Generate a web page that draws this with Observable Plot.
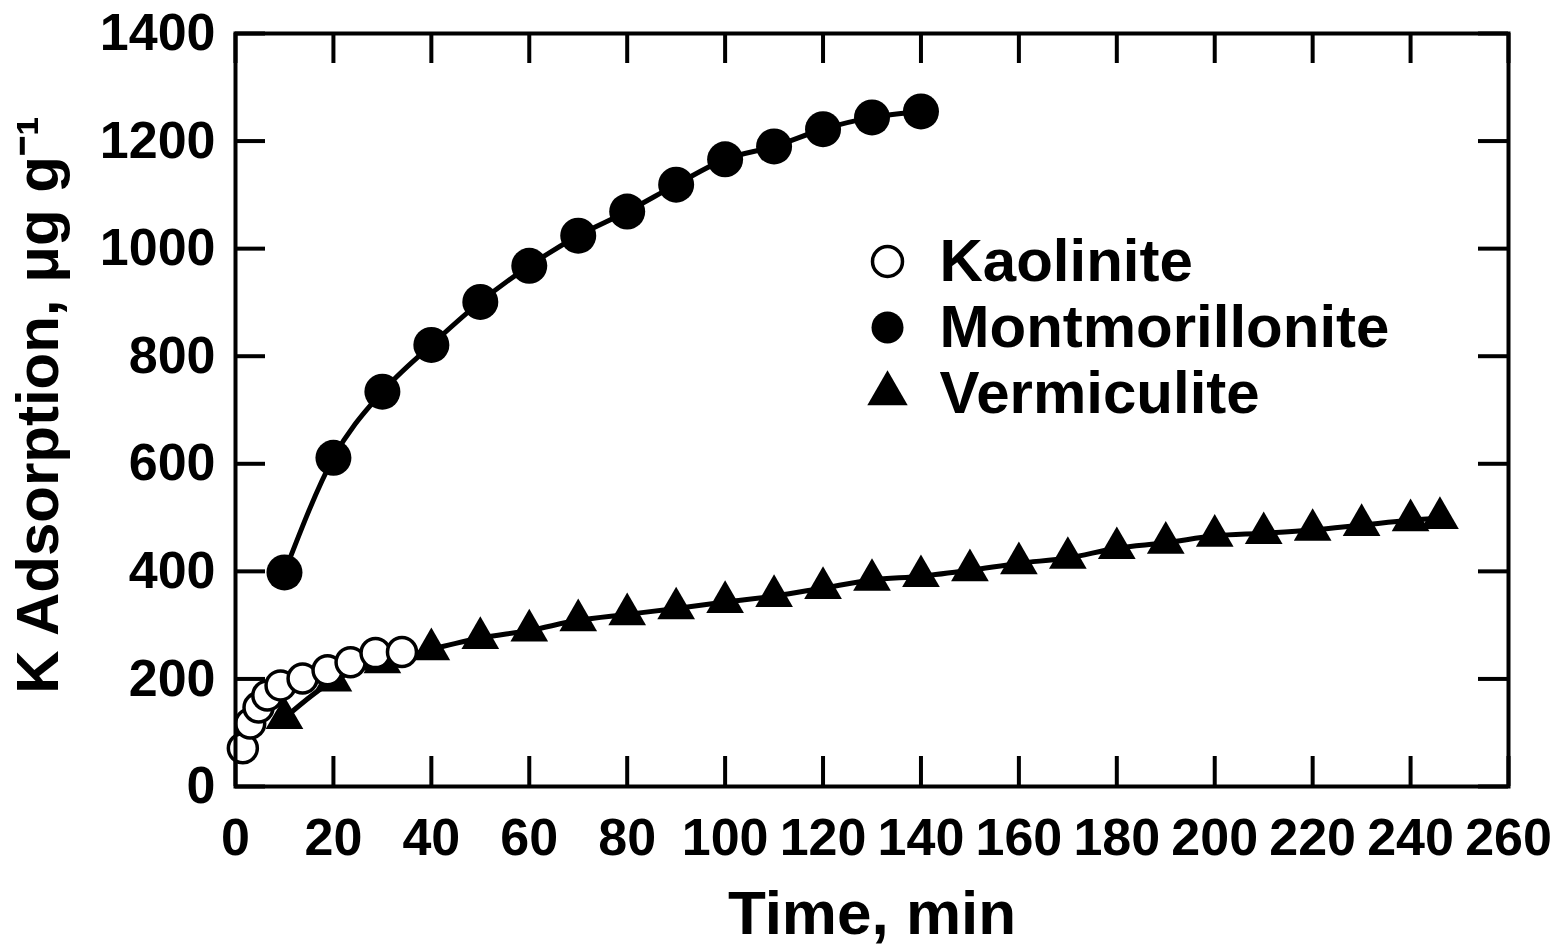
<!DOCTYPE html>
<html>
<head>
<meta charset="utf-8">
<script src="https://cdn.jsdelivr.net/npm/d3@7"></script>
<script src="https://cdn.jsdelivr.net/npm/@observablehq/plot@0.6"></script>
<style>
  html, body { margin: 0; padding: 0; background: #fff; }
  #chart { width: 1557px; height: 949px; }
</style>
</head>
<body>
<div id="chart"></div>
<script>
// ---- data ----
const kaoTime = [1.5, 3, 4.7, 6.5, 9.2, 13.7, 18.8, 23.5, 28.6, 34];
const kaoK    = [71, 117, 147, 169, 188, 201, 216, 231, 248, 250];

const monTime = [10, 20, 30, 40, 50, 60, 70, 80, 90, 100, 110, 120, 130, 140];
const monK    = [398, 611, 734, 821, 901, 968, 1024, 1069, 1119, 1166, 1190, 1222, 1244, 1255];

const verTime = [10, 20, 30, 40, 50, 60, 70, 80, 90, 100, 110, 120, 130, 140, 150, 160, 170, 180, 190, 200, 210, 220, 230, 240, 246];
const verK    = [127, 197, 231, 255, 276, 290, 309, 320, 331, 343, 354, 369, 384, 391, 402, 415, 425, 443, 453, 466, 471, 477, 486, 495, 499];

const xTicks = [0, 20, 40, 60, 80, 100, 120, 140, 160, 180, 200, 220, 240, 260];
const yTicks = [0, 200, 400, 600, 800, 1000, 1200, 1400];

const seriesNames = ["Kaolinite", "Montmorillonite", "Vermiculite"];
const xLabel = "Time, min";
const yLabel = "K Adsorption, μg g⁻¹";

// ---- tables ----
const kao = kaoTime.map((t, i) => ({t, k: kaoK[i]}));
const mon = monTime.map((t, i) => ({t, k: monK[i]}));
const ver = verTime.map((t, i) => ({t, k: verK[i]}));

// ---- layout / style ----
const W = 1557, H = 949;
const mL = 235, mR = 49, mT = 33, mB = 163;
const innerW = W - mL - mR, innerH = H - mT - mB;
const tickLen = 30;
const font = "'Liberation Sans', Arial, Helvetica, sans-serif";
const ink = "black";

const legendStyles = [
  {symbol: "circle", fill: "white", stroke: ink, strokeWidth: 3.5, r: 15},
  {symbol: "circle", fill: ink, stroke: "none", strokeWidth: 0, r: 16},
  {symbol: "triangle", fill: ink, stroke: "none", strokeWidth: 0, r: 15}
];
const legendRowDy = [228, 294, 360];

const legendMarks = seriesNames.flatMap((name, i) => [
  Plot.dot([name], {
    frameAnchor: "top-left", dx: 652, dy: legendRowDy[i],
    symbol: legendStyles[i].symbol, r: legendStyles[i].r,
    fill: legendStyles[i].fill, stroke: legendStyles[i].stroke,
    strokeWidth: legendStyles[i].strokeWidth
  }),
  Plot.text([name], {
    frameAnchor: "top-left", dx: 704, dy: legendRowDy[i],
    text: d => d, textAnchor: "start", lineAnchor: "middle",
    fontSize: 60, fontWeight: "bold", fill: ink
  })
]);

const chart = Plot.plot({
  width: W, height: H,
  marginLeft: mL, marginRight: mR, marginTop: mT, marginBottom: mB,
  style: {fontFamily: font, background: "white", color: ink, overflow: "visible"},
  x: {domain: [0, 260]},
  y: {domain: [0, 1400]},
  marks: [
    // inward ticks on all four sides
    Plot.tickX(xTicks, {x: d => d, insetTop: innerH - tickLen, stroke: ink, strokeWidth: 4}),
    Plot.tickX(xTicks, {x: d => d, insetBottom: innerH - tickLen, stroke: ink, strokeWidth: 4}),
    Plot.tickY(yTicks, {y: d => d, insetRight: innerW - tickLen, stroke: ink, strokeWidth: 4}),
    Plot.tickY(yTicks, {y: d => d, insetLeft: innerW - tickLen, stroke: ink, strokeWidth: 4}),
    // tick labels
    Plot.axisX({ticks: xTicks, tickFormat: d => String(d), tickSize: 0, tickPadding: 32, fontSize: 52, fontWeight: "bold", label: null, fill: ink}),
    Plot.axisY({ticks: yTicks, tickFormat: d => String(d), tickSize: 0, tickPadding: 20, fontSize: 52, fontWeight: "bold", label: null, fill: ink}),
    // axis titles
    Plot.text([xLabel], {frameAnchor: "bottom", dy: 128, lineAnchor: "middle", text: d => d,
      fontSize: 62, fontWeight: "bold", fill: ink}),
    Plot.text([yLabel], {frameAnchor: "left", dx: -220, dy: -5, rotate: -90, lineAnchor: "top",
      textAnchor: "middle", text: d => d, fontSize: 60, fontWeight: "bold", fill: ink}),
    // series
    Plot.line(mon, {x: "t", y: "k", curve: "monotone-x", stroke: ink, strokeWidth: 5}),
    Plot.line(ver, {x: "t", y: "k", curve: "monotone-x", stroke: ink, strokeWidth: 5}),
    Plot.line(kao, {x: "t", y: "k", curve: "monotone-x", stroke: ink, strokeWidth: 5}),
    Plot.dot(mon, {x: "t", y: "k", r: 18, fill: ink, symbol: "circle"}),
    Plot.dot(ver, {x: "t", y: "k", r: 14, fill: ink, symbol: "triangle"}),
    Plot.dot(kao, {x: "t", y: "k", r: 14.5, fill: "white", stroke: ink, strokeWidth: 3.5, symbol: "circle"}),
    // frame
    Plot.frame({stroke: ink, strokeWidth: 4}),
    // legend
    ...legendMarks
  ]
});
document.getElementById("chart").append(chart);
</script>
</body>
</html>
